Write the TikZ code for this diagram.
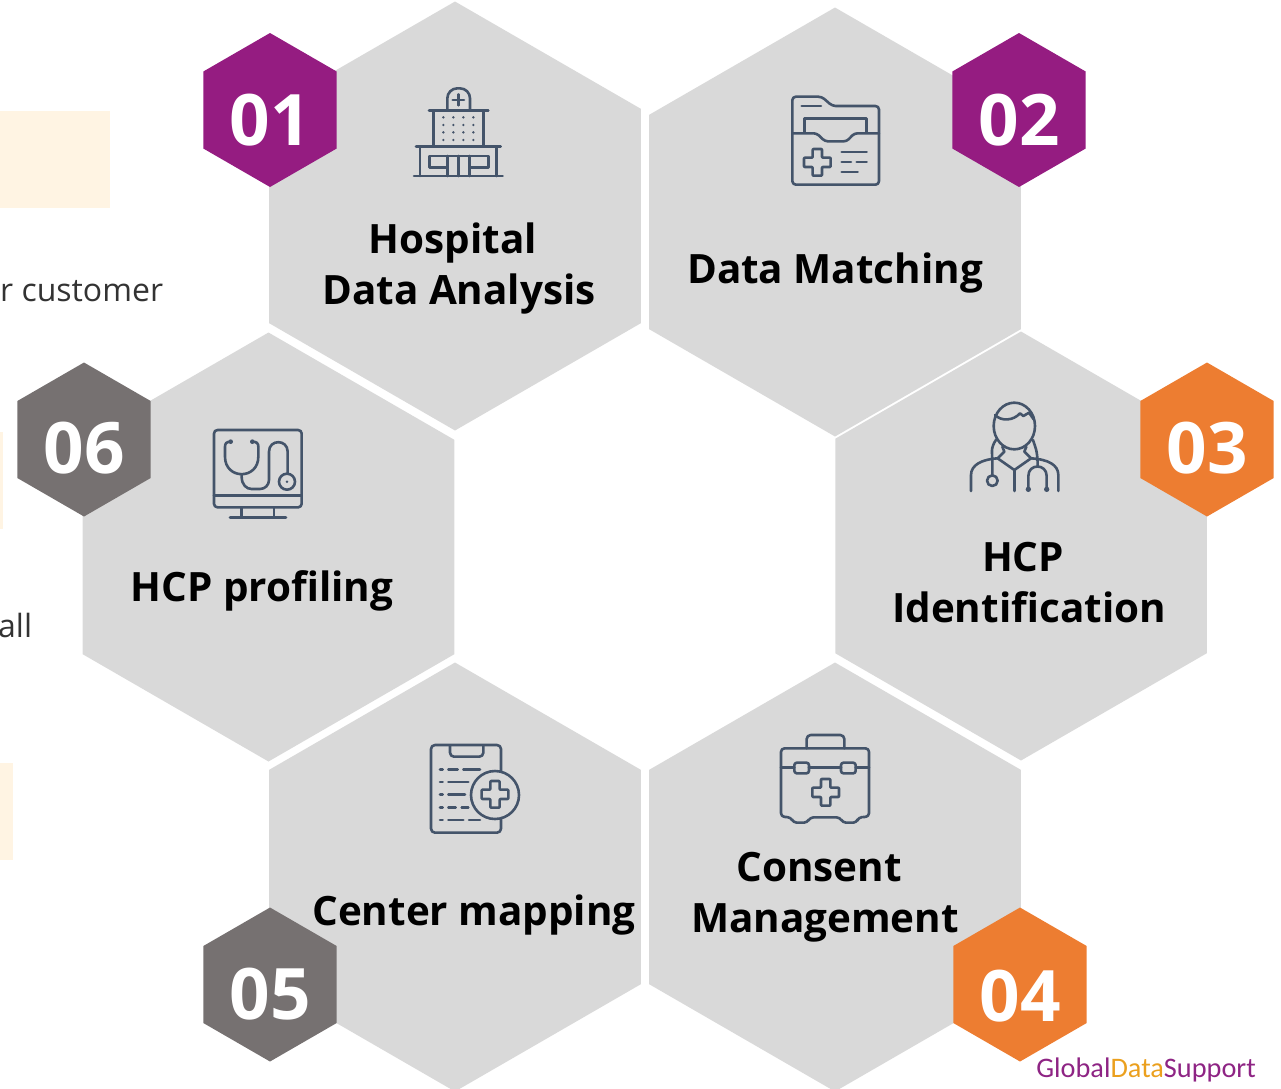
\documentclass[tikz,border=0pt]{standalone}
\usepackage{fontspec}
\setmainfont{Open Sans}
\newfontfamily\logofont{Carlito}
\usepackage{tikz}
\usetikzlibrary{shapes.geometric}

\definecolor{cellgray}{HTML}{D9D9D9}
\definecolor{badgepurple}{HTML}{951C81}
\definecolor{badgeorange}{HTML}{ED7D31}
\definecolor{badgegray}{HTML}{767171}
\definecolor{iconblue}{HTML}{44546A}
\definecolor{notebeige}{HTML}{FFF4E3}
\definecolor{bodytext}{HTML}{333333}
\definecolor{logopurple}{HTML}{8E2484}
\definecolor{logoorange}{HTML}{EBA01E}

\tikzset{
	hexcell/.style = {regular polygon, regular polygon sides = 6, regular polygon rotate = 30, fill = cellgray, inner sep = 0pt, minimum size = 429pt},
	hexbadge/.style = {regular polygon, regular polygon sides = 6, regular polygon rotate = 30, inner sep = 0pt, minimum size = 154pt, text = white, font = \fontsize{71}{71}\selectfont\bfseries},
	celltext/.style = {align = center, font = \fontsize{40.4}{51}\selectfont\bfseries},
	sidetext/.style = {anchor = base west, inner sep = 0pt, text = bodytext, font = \fontsize{32}{32}\selectfont},
	iconline/.style = {draw = iconblue, line width = 2.6pt, line join = round, line cap = round},
	medcross/.pic = {
		\draw [iconline, rounded corners = 0.8pt] (-14,-40) -- (14,-40) -- (14,-14) -- (40,-14) -- (40,14) -- (14,14) -- (14,40) -- (-14,40) -- (-14,14) -- (-40,14) -- (-40,-14) -- (-14,-14) -- cycle;
	}
}

\begin{document}
\begin{tikzpicture}[x=1pt,y=-1pt]
	\useasboundingbox (0,0) rectangle (1281,1088);

	\fill [notebeige] (0,111) rectangle (110,208);
	\fill [notebeige] (0,432) rectangle (3,529);
	\fill [notebeige] (0,763) rectangle (13,860);
	\node [sidetext] (note1) at (0,301) {r customer};
	\node [sidetext] (note2) at (-2,637) {all};

	\foreach \cx/\cy/\hexname in {455/216/cell1, 835/222/cell2, 1021/546/cell3, 835/877/cell4, 455/877/cell5, 268.5/547/cell6}
		\node [hexcell] (\hexname) at (\cx,\cy) {};

	\foreach \cx/\cy/\hexname/\hexcolor/\hexnum/\hexdrop in {270/110/badge1/badgepurple/01/35pt, 1019/110/badge2/badgepurple/02/35pt, 1207/439.5/badge3/badgeorange/03/33.5pt, 1020/984.5/badge4/badgeorange/04/36.5pt, 270/984.5/badge5/badgegray/05/34.5pt, 84/439.5/badge6/badgegray/06/33.5pt}
		\node [hexbadge, fill = \hexcolor] (\hexname) at (\cx,\cy) {\raisebox{-\hexdrop}[0pt][0pt]{\hexnum}};

	\node [celltext] (text1) at (459,268) {Hospital\hspace*{12pt}\\Data Analysis};
	\node [celltext] (text2) at (835,273) {Data Matching};
	\node [celltext] (text3) at (1029,583) {HCP\hspace*{12pt}\\Identification};
	\node [celltext] (text4) at (825,897) {Consent\hspace*{12pt}\\Management};
	\node [celltext] (text5) at (474,915) {Center mapping};
	\node [celltext] (text6) at (262,591) {HCP profiling};

	\node [anchor = base east, inner sep = 0pt, font = \logofont\fontsize{28.3}{28}\selectfont] (logo) at (1256,1077) {\textcolor{logopurple}{Global}\textcolor{logoorange}{Data}\textcolor{logopurple}{Support}};

	% hospital
	\begin{scope}[shift={(400,70)},scale=1/3]
		\draw [iconline, rounded corners = 10pt] (142,122) -- (142,55) -- (210,55) -- (210,122);
		\draw [iconline] (158,90) -- (192,90) (175,73) -- (175,106);
		\draw [iconline] (87,122) -- (265,122) (100,122) -- (100,230) (250,122) -- (250,230);
		\draw [iconline] (48,230) -- (302,230) (60,230) -- (60,318) (290,230) -- (290,318) (42,318) -- (308,318);
		\draw [iconline] (142,292) -- (88,292) -- (88,258) -- (265,258) -- (265,292) -- (208,292);
		\draw [iconline] (142,258) -- (142,318) (175,258) -- (175,318) (208,258) -- (208,318);
		\foreach \dotx in {130,160,190,220}
			\foreach \doty in {142,165,187,210}
				\fill [iconblue] (\dotx,\doty) circle (4pt);
	\end{scope}

	% folder
	\begin{scope}[shift={(775,80)},scale=1/3]
		\draw [iconline, rounded corners = 3.5pt] (52,160) -- (52,50) -- (140,50) -- (172,78) -- (312,78) -- (312,314) -- (52,314) -- cycle;
		\draw [iconline] (80,78) -- (138,78);
		\draw [iconline] (88,158) -- (88,116) -- (274,116) -- (274,158);
		\draw [iconline, rounded corners = 3pt] (52,160) -- (125,160) -- (150,184) -- (215,184) -- (238,160) -- (312,160);
		\pic [transform shape] at (127,247) {medcross};
		\draw [iconline] (200,216) -- (275,216) (200,246) -- (228,246) (245,246) -- (275,246) (200,276) -- (248,276);
	\end{scope}

	% doctor
	\begin{scope}[shift={(955,390)},scale=1/3]
		\draw [iconline] (178,108) ellipse [x radius = 62, y radius = 70];
		\draw [iconline] (120,75) .. controls (140,95) and (175,92) .. (195,70) -- (205,78) -- (222,68) -- (236,88);
		\draw [iconline] (142,170) -- (148,185) -- (128,205) -- (178,240) -- (228,205) -- (208,185) -- (214,170);
		\draw [iconline] (178,240) -- (178,303);
		\draw [iconline] (48,303) -- (48,255) .. controls (48,225) and (80,208) .. (128,205);
		\draw [iconline] (228,205) .. controls (280,208) and (310,225) .. (310,255) -- (310,303);
		\draw [iconline] (124,148) .. controls (105,175) and (112,190) .. (112,210) -- (112,255);
		\draw [iconline] (112,272) circle [radius = 16];
		\draw [iconline] (234,150) .. controls (240,170) and (248,180) .. (248,230);
		\draw [iconline] (220,298) -- (220,258) .. controls (220,220) and (275,220) .. (275,258) -- (275,298);
		\fill [iconblue] (220,298) circle (8pt) (275,298) circle (8pt);
	\end{scope}

	% medicine case
	\begin{scope}[shift={(765,720)},scale=1/3]
		\draw [iconline, rounded corners = 3.5pt] (48,85) -- (312,85) -- (312,290) -- (280,292) -- (275,308) -- (233,308) -- (225,292) -- (135,292) -- (127,308) -- (85,308) -- (78,292) -- (48,290) -- cycle;
		\draw [iconline, rounded corners = 4pt] (125,85) -- (125,45) -- (238,45) -- (238,85);
		\draw [iconline] (48,143) -- (88,143) (132,143) -- (228,143) (272,143) -- (312,143);
		\draw [iconline, rounded corners = 2.5pt] (88,128) rectangle (132,160);
		\draw [iconline, rounded corners = 2.5pt] (228,128) rectangle (272,160);
		\pic [transform shape] at (182,217) {medcross};
	\end{scope}

	% clipboard
	\begin{scope}[shift={(415,730)},scale=1/3]
		\draw [iconline, rounded corners = 4pt] (258,125) -- (258,45) -- (48,45) -- (48,308) -- (258,308) -- (258,265);
		\draw [iconline, rounded corners = 4pt] (105,47) -- (105,80) -- (205,80) -- (205,47);
		\draw [iconline] (240,195) circle [radius = 72];
		\pic [transform shape] at (240,193) {medcross};
		\foreach \dashy/\dasha/\dashb/\dashc/\dashd in {118/100/128/145/195, 156/100/160/100/160, 194/100/150/100/150, 232/100/122/140/160, 270/100/145/162/195} {
			\draw [iconline] (75,\dashy) -- (83,\dashy);
			\draw [iconline] (\dasha,\dashy) -- (\dashb,\dashy) (\dashc,\dashy) -- (\dashd,\dashy);
		}
	\end{scope}

	% monitor
	\begin{scope}[shift={(200,415)},scale=1/3]
		\draw [iconline, rounded corners = 3.5pt] (42,45) rectangle (305,277);
		\draw [iconline] (42,242) -- (305,242);
		\draw [iconline] (125,277) -- (125,308) (222,277) -- (222,308) (90,308) -- (258,308);
		\draw [iconline] (92,80) .. controls (80,80) and (75,85) .. (75,95) -- (75,125) .. controls (75,195) and (175,195) .. (175,125) -- (175,95) .. controls (175,85) and (170,80) .. (157,80);
		\draw [iconline] (125,178) -- (125,185) .. controls (125,210) and (140,222) .. (155,222) -- (180,222) .. controls (195,222) and (207,210) .. (207,195) -- (207,110) .. controls (207,72) and (263,72) .. (263,110) -- (263,175);
		\draw [iconline] (261,200) circle [radius = 24];
		\fill [iconblue] (92,80) circle (7pt) (157,80) circle (7pt) (261,200) circle (4pt);
	\end{scope}
\end{tikzpicture}
\end{document}
